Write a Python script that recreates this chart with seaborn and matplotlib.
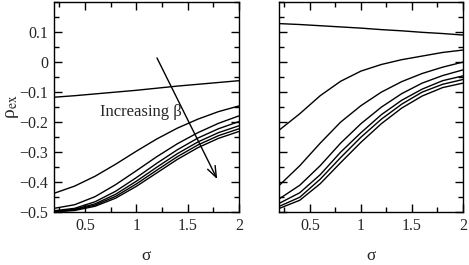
import numpy as np
import pandas as pd
import matplotlib
matplotlib.use('Agg')
import matplotlib.pyplot as plt
from matplotlib.ticker import MultipleLocator
import seaborn as sns

# sigma grid
sigma = [0.2, 0.4, 0.6, 0.8, 1.0, 1.2, 1.4, 1.6, 1.8, 2.0]

# left panel, curves from top to bottom (increasing beta)
left_b1 = [-0.117, -0.112, -0.106, -0.100, -0.094, -0.087, -0.080, -0.074, -0.068, -0.062]
left_b2 = [-0.437, -0.413, -0.380, -0.340, -0.297, -0.256, -0.220, -0.190, -0.165, -0.146]
left_b3 = [-0.487, -0.475, -0.448, -0.408, -0.362, -0.315, -0.272, -0.235, -0.204, -0.179]
left_b4 = [-0.495, -0.487, -0.465, -0.430, -0.385, -0.337, -0.292, -0.253, -0.222, -0.198]
left_b5 = [-0.497, -0.490, -0.472, -0.440, -0.397, -0.350, -0.305, -0.266, -0.235, -0.212]
left_b6 = [-0.498, -0.492, -0.476, -0.447, -0.406, -0.360, -0.315, -0.276, -0.245, -0.222]
left_b7 = [-0.499, -0.494, -0.480, -0.453, -0.414, -0.369, -0.324, -0.285, -0.254, -0.231]

# right panel
right_b1 = [0.128, 0.125, 0.121, 0.117, 0.113, 0.108, 0.104, 0.099, 0.095, 0.090]
right_b2 = [-0.226, -0.172, -0.112, -0.064, -0.030, -0.008, 0.008, 0.020, 0.032, 0.040]
right_b3 = [-0.410, -0.345, -0.270, -0.200, -0.145, -0.100, -0.065, -0.038, -0.017, 0.000]
right_b4 = [-0.455, -0.410, -0.345, -0.270, -0.205, -0.150, -0.105, -0.070, -0.045, -0.026]
right_b5 = [-0.470, -0.435, -0.375, -0.300, -0.235, -0.175, -0.127, -0.090, -0.062, -0.046]
right_b6 = [-0.480, -0.450, -0.390, -0.318, -0.250, -0.190, -0.140, -0.100, -0.074, -0.058]
right_b7 = [-0.487, -0.460, -0.405, -0.335, -0.267, -0.205, -0.153, -0.113, -0.085, -0.070]

xticks = [0.5, 1.0, 1.5, 2.0]
xtick_labels = ['0.5', '1', '1.5', '2']
yticks = [-0.5, -0.4, -0.3, -0.2, -0.1, 0.0, 0.1]
ytick_labels = ['\u22120.5', '\u22120.4', '\u22120.3', '\u22120.2', '\u22120.1', '0', '0.1']


def long_frame(curves):
    rows = []
    for i, vals in enumerate(curves):
        for s, v in zip(sigma, vals):
            rows.append({'sigma': s, 'rho': v, 'beta': i})
    return pd.DataFrame(rows)


left_df = long_frame([left_b1, left_b2, left_b3, left_b4, left_b5, left_b6, left_b7])
right_df = long_frame([right_b1, right_b2, right_b3, right_b4, right_b5, right_b6, right_b7])

sns.set_style('ticks')
plt.rcParams['font.family'] = ['Liberation Serif', 'DejaVu Serif']
plt.rcParams['mathtext.fontset'] = 'stix'

fig = plt.figure(figsize=(4.69, 2.65), dpi=100)
ax1 = fig.add_axes([0.1151, 0.199, 0.3945, 0.7935])
ax2 = fig.add_axes([0.5957, 0.199, 0.3915, 0.7935])

for ax, df in [(ax1, left_df), (ax2, right_df)]:
    sns.lineplot(data=df, x='sigma', y='rho', hue='beta', palette=['black'] * 7,
                 linewidth=1.0, legend=False, ax=ax)
    ax.set_xlim(0.2, 2.0)
    ax.set_ylim(-0.5, 0.2)
    ax.set_xticks(xticks)
    ax.set_xticklabels(xtick_labels)
    ax.set_yticks(yticks)
    ax.xaxis.set_minor_locator(MultipleLocator(0.25))
    ax.yaxis.set_minor_locator(MultipleLocator(0.05))
    ax.tick_params(which='both', direction='in', top=True, right=True,
                   width=1.0, color='black', labelsize=11.5, pad=4)
    ax.tick_params(which='major', length=6)
    ax.tick_params(which='minor', length=3.5)
    for sp in ax.spines.values():
        sp.set_linewidth(1.0)
        sp.set_color('black')
    ax.set_xlabel('\u03c3', fontsize=12.5, labelpad=10)
    ax.set_ylabel('')

ax1.set_yticklabels(ytick_labels)
ax2.set_yticklabels([])
ax1.set_ylabel('\u03c1$_{\\rm ex}$', fontsize=14)
ax1.yaxis.set_label_coords(-0.18, 0.5)

ax1.annotate('', xy=(1.80, -0.398), xytext=(1.19, 0.022),
             arrowprops=dict(arrowstyle='->,head_length=0.8,head_width=0.3',
                             color='black', lw=1.0))
ax1.text(1.05, -0.167, 'Increasing \u03b2', fontsize=12, ha='center', va='center')

fig.savefig('out.png', dpi=100)
